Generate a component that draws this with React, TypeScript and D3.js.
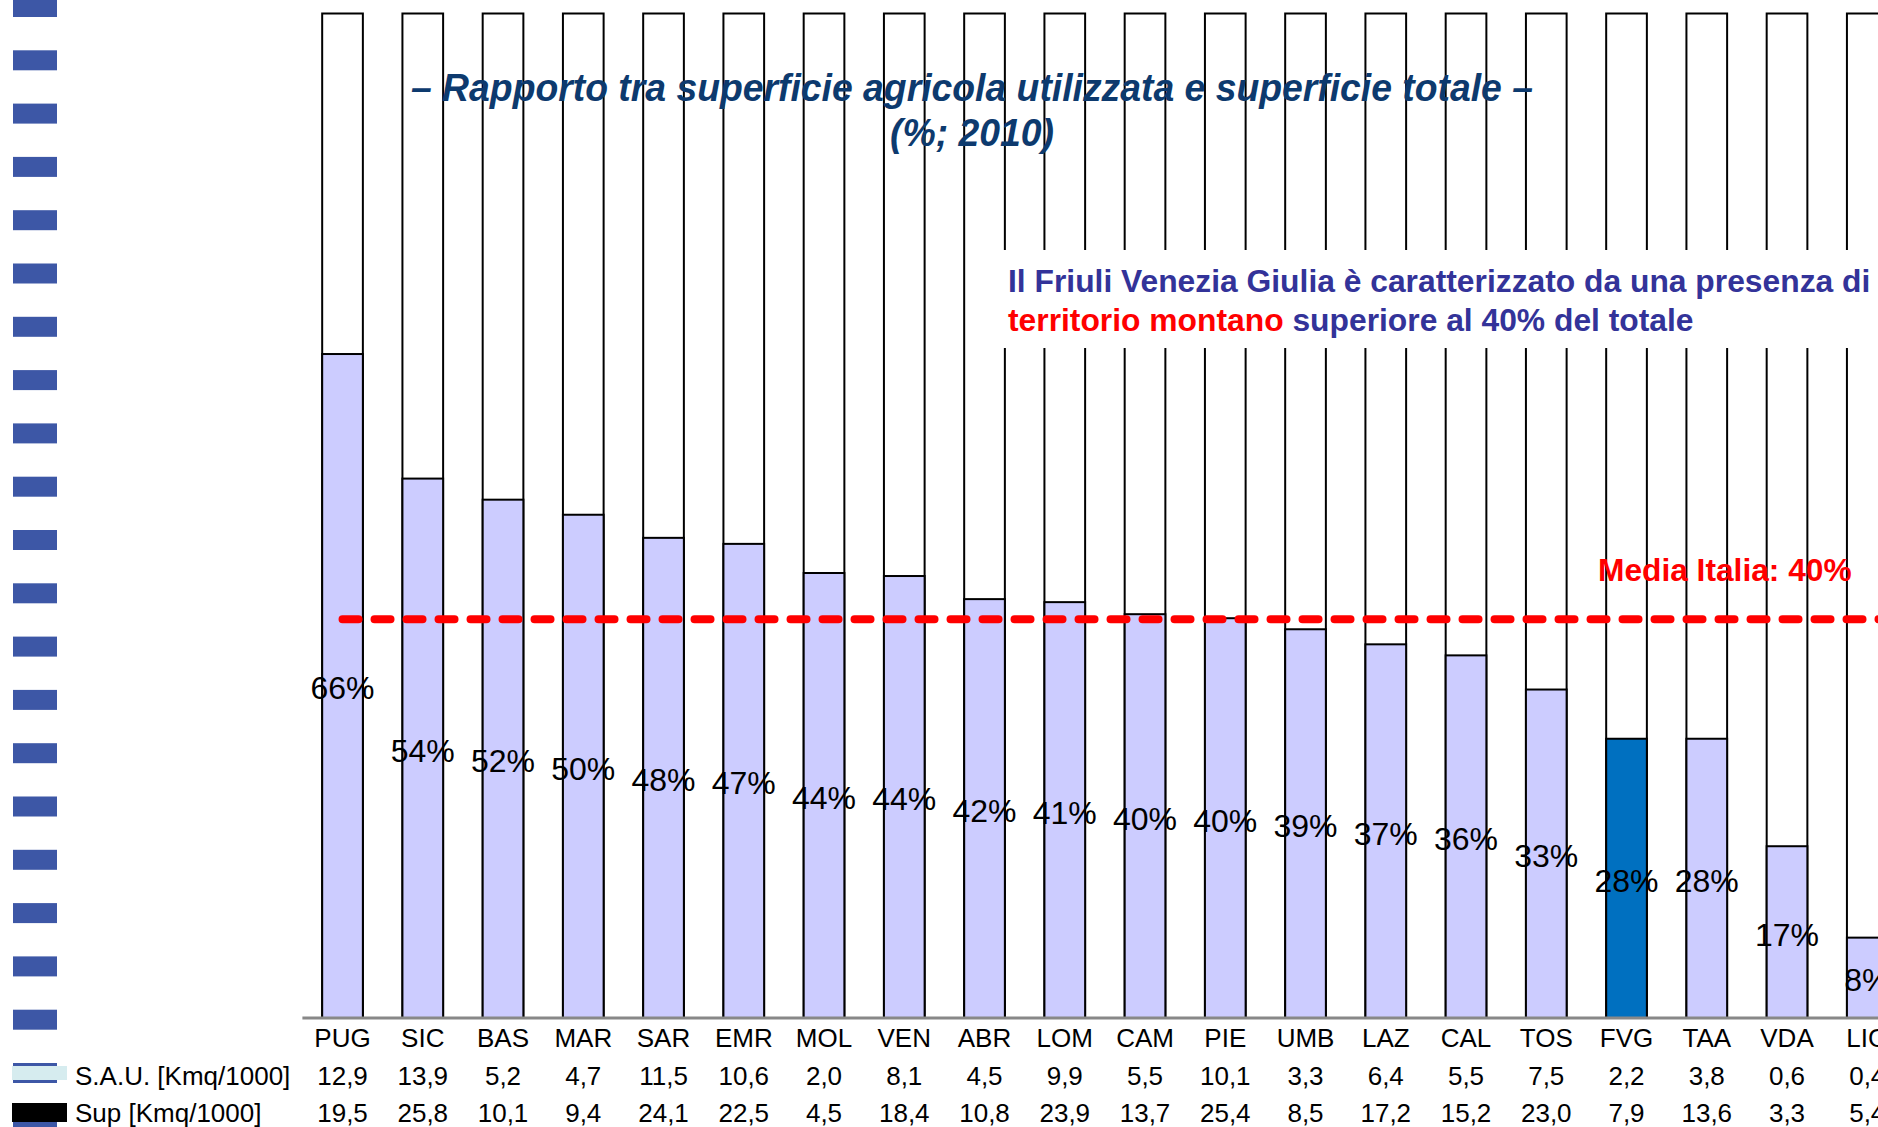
import React from "react";
import { scaleBand, scaleLinear, formatLocale, range } from "d3";

// regions, sorted by share of utilised agricultural area
const categories = ["PUG", "SIC", "BAS", "MAR", "SAR", "EMR", "MOL", "VEN", "ABR", "LOM",
    "CAM", "PIE", "UMB", "LAZ", "CAL", "TOS", "FVG", "TAA", "VDA", "LIG"];

// S.A.U. [Kmq/1000]
const sauValues = [12.9, 13.9, 5.2, 4.7, 11.5, 10.6, 2.0, 8.1, 4.5, 9.9,
    5.5, 10.1, 3.3, 6.4, 5.5, 7.5, 2.2, 3.8, 0.6, 0.4];

// Sup [Kmq/1000]
const supValues = [19.5, 25.8, 10.1, 9.4, 24.1, 22.5, 4.5, 18.4, 10.8, 23.9,
    13.7, 25.4, 8.5, 17.2, 15.2, 23.0, 7.9, 13.6, 3.3, 5.4];

// S.A.U. / superficie totale
const sauShare = [0.661, 0.537, 0.516, 0.501, 0.478, 0.472, 0.443, 0.440, 0.417, 0.414,
    0.402, 0.398, 0.387, 0.372, 0.361, 0.327, 0.278, 0.278, 0.171, 0.080];

const highlight = "FVG";
const mediaItalia = 0.397;

const rowLabels = ["S.A.U. [Kmq/1000]", "Sup [Kmq/1000]"];
const titleLines = ["– Rapporto tra superficie agricola utilizzata e superficie totale –", "(%; 2010)"];

const W = 1878;
const H = 1127;
const FONT = "'Liberation Sans', Arial, Helvetica, sans-serif";

const it = formatLocale({ decimal: ",", thousands: ".", grouping: [3], currency: ["€", ""] });
const fmtNum = it.format(".1f");
const fmtPct = it.format(".0%");

export default function App() {
    const x = scaleBand<string>()
        .domain(categories)
        .range([302.4, 1907.4])
        .paddingInner(0.493)
        .paddingOuter(0.2465);
    const y = scaleLinear().domain([0, 1]).range([1018, 13.5]);
    const bw = x.bandwidth();

    const mediaY = y(mediaItalia);
    const firstCenter = (x(categories[0]) ?? 0) + bw / 2;

    return (
        <svg width={W} height={H} viewBox={`0 0 ${W} ${H}`}
            style={{ position: "absolute", left: 0, top: 0, background: "#fff", overflow: "hidden" }}
            fontFamily={FONT}>
            <rect width={W} height={H} fill="#fff" />

            {/* slide decoration: blue dashes along the left edge */}
            {range(22).map(i => (
                <rect key={"d" + i} x={13} y={-3 + i * 53.3} width={44} height={20} fill="#3d57a6" />
            ))}

            {/* bars: total surface (white) with S.A.U. share on top of it */}
            {categories.map((c, i) => {
                const x0 = x(c) ?? 0;
                return (
                    <g key={c}>
                        <rect x={x0} y={y(1)} width={bw} height={y(0) - y(1)}
                            fill="#fff" stroke="#000" strokeWidth={2} />
                        <rect x={x0} y={y(sauShare[i])} width={bw} height={y(0) - y(sauShare[i])}
                            fill={c === highlight ? "#0070c0" : "#ccccff"} stroke="#000" strokeWidth={2} />
                    </g>
                );
            })}

            {/* baseline */}
            <line x1={x.range()[0]} x2={W} y1={y(0)} y2={y(0)} stroke="#888" strokeWidth={3} />

            {/* Italian average */}
            <line x1={firstCenter} x2={W + 10} y1={mediaY} y2={mediaY}
                stroke="#ff0000" strokeWidth={8} strokeDasharray="16 16" strokeLinecap="round" />
            <text x={1598} y={581} fill="#ff0000" fontSize={31.7} fontWeight="bold">Media Italia: 40%</text>

            {/* title */}
            <text x={972} y={101} textAnchor="middle" fill="#0d3a6e" fontSize={38}
                fontWeight="bold" fontStyle="italic" textLength={1122} lengthAdjust="spacingAndGlyphs">
                {titleLines[0]}
            </text>
            <text x={972} y={146} textAnchor="middle" fill="#0d3a6e" fontSize={38}
                fontWeight="bold" fontStyle="italic" textLength={164} lengthAdjust="spacingAndGlyphs">
                {titleLines[1]}
            </text>

            {/* annotation box */}
            <rect x={1000} y={250} width={W - 1000} height={98} fill="#fff" />
            <text x={1008} y={292} fontSize={31.8} fontWeight="bold" fill="#333399">
                Il Friuli Venezia Giulia è caratterizzato da una presenza di
            </text>
            <text x={1008} y={331} fontSize={31.8} fontWeight="bold" fill="#333399">
                <tspan fill="#ff0000">territorio montano</tspan> superiore al 40% del totale
            </text>

            {/* share labels, centred in the S.A.U. part */}
            {categories.map((c, i) => (
                <text key={"p" + c} x={(x(c) ?? 0) + bw / 2} y={(y(sauShare[i]) + y(0)) / 2}
                    dy="0.42em" textAnchor="middle" fontSize={32} fill="#000">
                    {fmtPct(sauShare[i])}
                </text>
            ))}

            {/* category labels + data table */}
            {categories.map((c, i) => {
                const cx = (x(c) ?? 0) + bw / 2;
                return (
                    <g key={"t" + c} fontSize={26} textAnchor="middle" fill="#000">
                        <text x={cx} y={1047}>{c}</text>
                        <text x={cx} y={1085}>{fmtNum(sauValues[i])}</text>
                        <text x={cx} y={1122}>{fmtNum(supValues[i])}</text>
                    </g>
                );
            })}

            {/* table legend keys */}
            <rect x={12} y={1066} width={55} height={14} fill="#d6ecef" />
            <rect x={12} y={1103} width={55} height={19} fill="#000" />
            <text x={75} y={1085} fontSize={26} fill="#000">{rowLabels[0]}</text>
            <text x={75} y={1122} fontSize={26} fill="#000">{rowLabels[1]}</text>
        </svg>
    );
}
